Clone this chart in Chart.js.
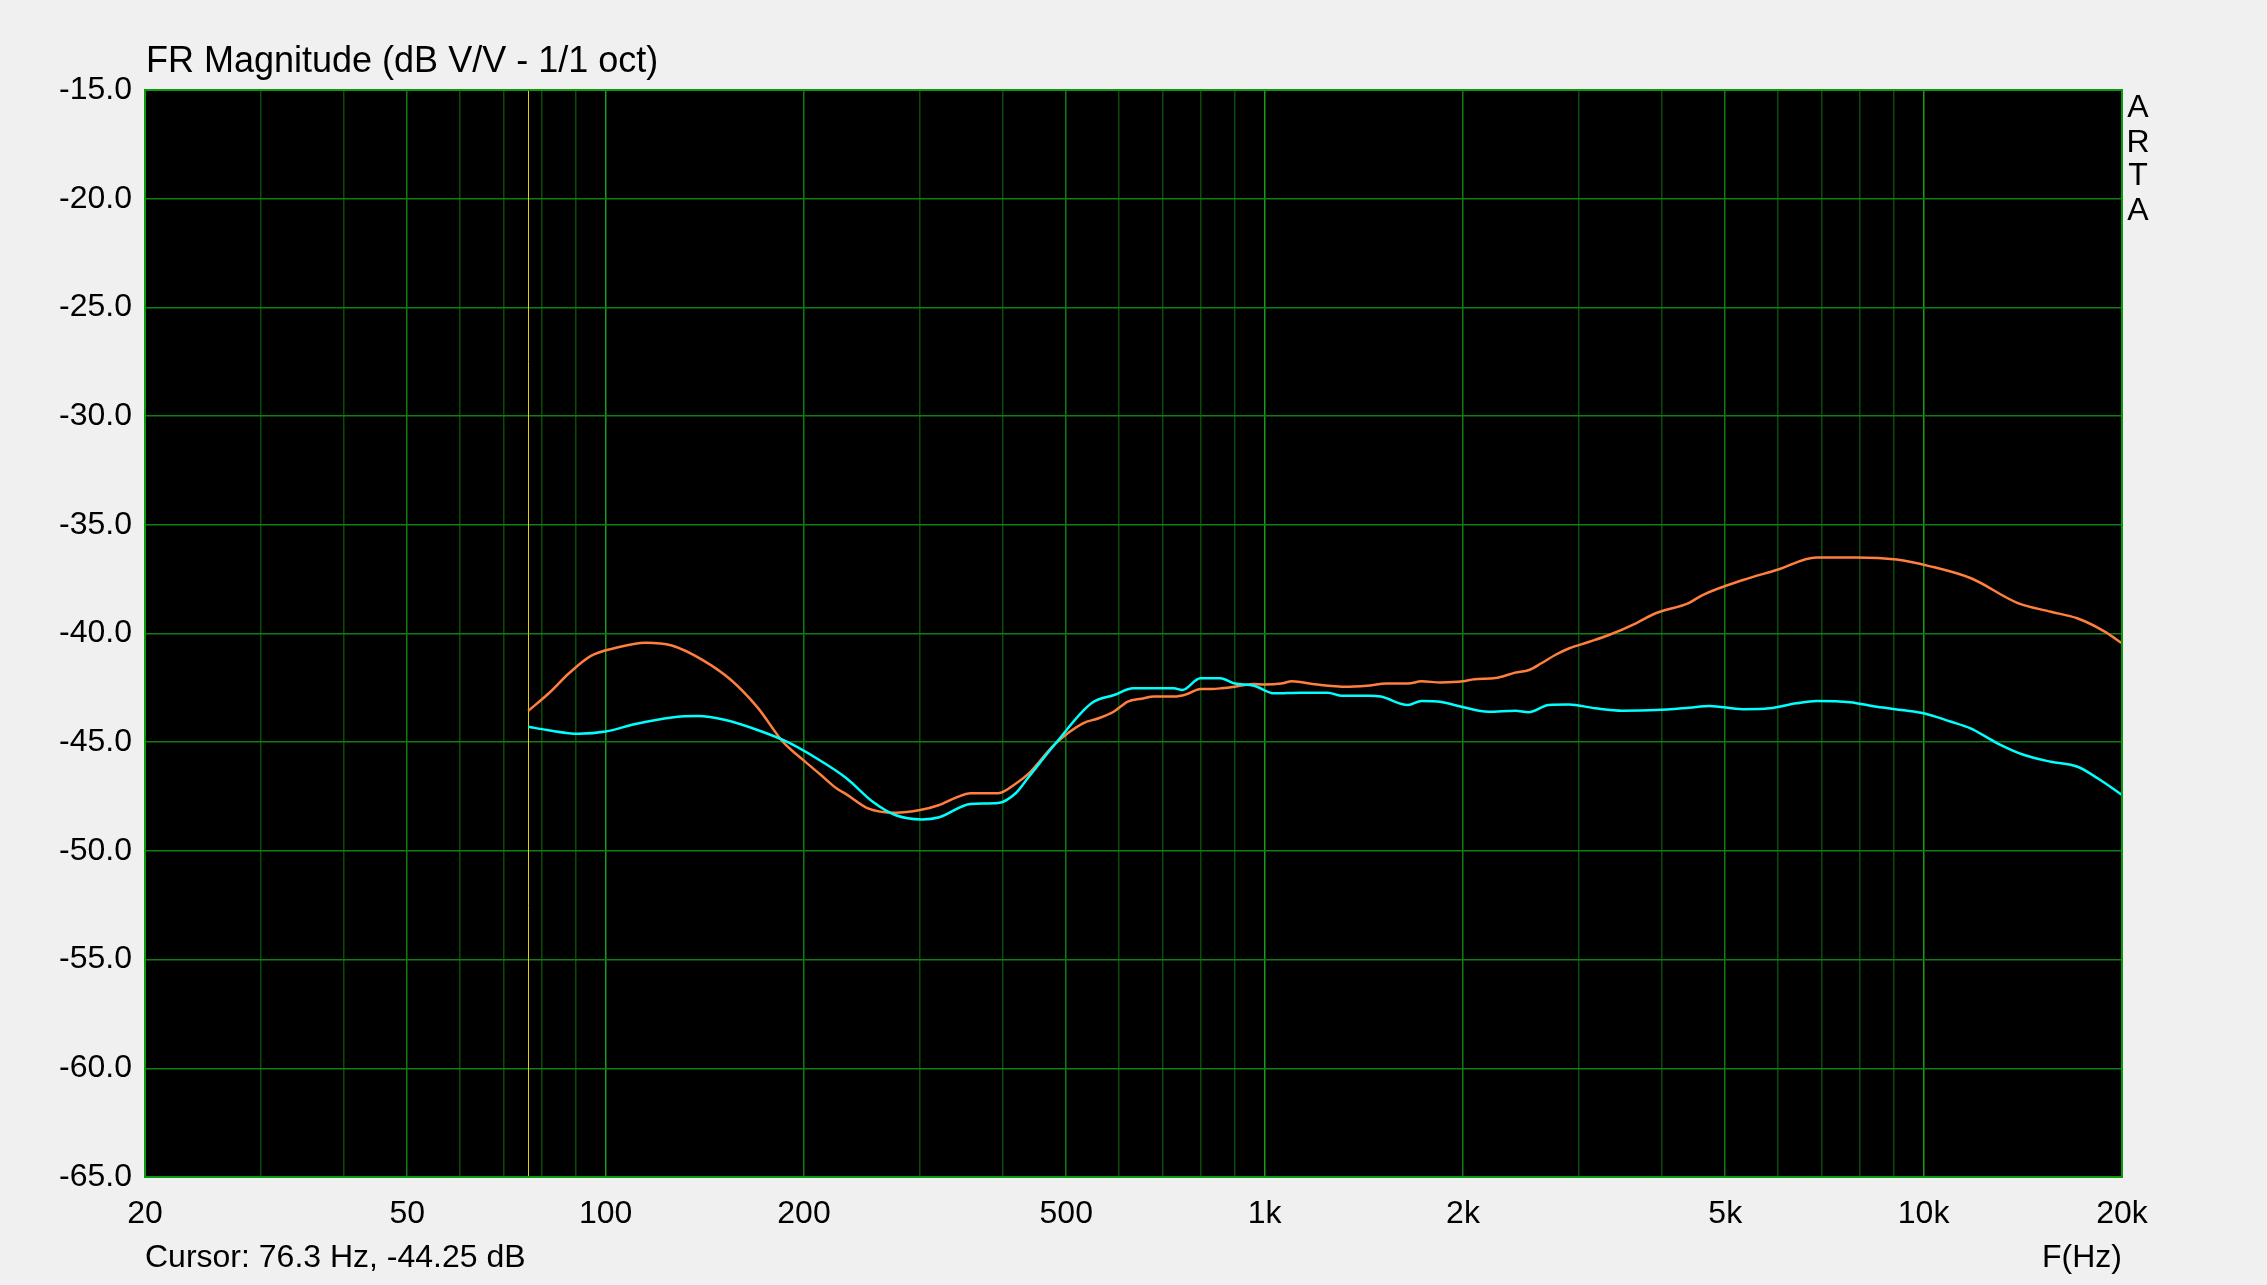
<!DOCTYPE html>
<html>
<head>
<meta charset="utf-8">
<script src="https://cdn.jsdelivr.net/npm/chart.js@4.4.1/dist/chart.umd.min.js"></script>
<style>
  body { margin: 0; background: #f0f0f0; }
  #wrap { width: 2267px; height: 1285px; }
</style>
</head>
<body>
<div id="wrap"><canvas id="frChart"></canvas></div>
<script>
// grid + labelled ticks on the frequency axis
var gridHz = [20, 30, 40, 50, 60, 70, 80, 90,
  100, 200, 300, 400, 500, 600, 700, 800, 900,
  1000, 2000, 3000, 4000, 5000, 6000, 7000, 8000, 9000,
  10000, 20000];
var labelHz = [20, 50, 100, 200, 500, 1000, 2000, 5000, 10000, 20000];
var labelText = ['20', '50', '100', '200', '500', '1k', '2k', '5k', '10k', '20k'];
var dbTicks = [-65, -60, -55, -50, -45, -40, -35, -30, -25, -20, -15];

// cursor readout
var cursorHz = 76.3;
var cursorDb = -44.25;

// orange trace
var orangeHz = [76.3, 82, 88, 95, 103, 115, 126, 140, 155, 170, 186, 200, 212, 224, 232,
  250, 275, 300, 320, 340, 358, 394, 420, 440, 480, 530, 560, 590, 620, 650, 680, 730,
  760, 800, 830, 860, 900, 960, 1000, 1060, 1100, 1190, 1250, 1320, 1430, 1530, 1650,
  1730, 1850, 2000, 2080, 2240, 2400, 2520, 2630, 2760, 2900, 3110, 3330, 3660, 3920,
  4400, 4620, 5320, 5980, 6880, 7900, 9100, 10200, 11800, 13900, 15600, 17100, 18800, 20000];
var orangeDb = [-43.56, -42.75, -41.83, -41.03, -40.68, -40.42, -40.55, -41.2, -42.14, -43.4,
  -45.0, -45.85, -46.5, -47.12, -47.4, -48.04, -48.24, -48.12, -47.9, -47.55, -47.35, -47.35,
  -46.89, -46.4, -45.1, -44.13, -43.9, -43.6, -43.13, -43.0, -42.9, -42.9, -42.8, -42.55,
  -42.55, -42.52, -42.45, -42.32, -42.35, -42.3, -42.2, -42.33, -42.4, -42.45, -42.4, -42.3,
  -42.3, -42.2, -42.25, -42.2, -42.1, -42.05, -41.8, -41.68, -41.37, -40.99, -40.68, -40.38,
  -40.07, -39.53, -39.07, -38.6, -38.23, -37.54, -37.08, -36.5, -36.5, -36.6, -36.9, -37.46,
  -38.6, -39.0, -39.3, -39.9, -40.45];

// cyan trace
var cyanHz = [76.3, 81.5, 91, 100, 111, 126, 138, 152, 170, 189, 211, 232, 254, 275, 302,
  321, 358, 394, 419, 439, 482, 546, 591, 632, 728, 750, 799, 857, 898, 964, 1034, 1135,
  1247, 1306, 1435, 1500, 1650, 1730, 1856, 1990, 2186, 2400, 2516, 2698, 2894, 3177,
  3490, 3924, 4408, 4730, 5318, 5843, 6412, 6878, 7730, 8492, 9326, 10000, 10980, 11780,
  12940, 14210, 15600, 17120, 18370, 20000];
var cyanDb = [-44.29, -44.44, -44.61, -44.51, -44.16, -43.86, -43.8, -43.98, -44.44, -45.0,
  -45.82, -46.66, -47.73, -48.35, -48.55, -48.45, -47.84, -47.8, -47.35, -46.58, -45.05,
  -43.21, -42.83, -42.52, -42.52, -42.6, -42.06, -42.06, -42.29, -42.4, -42.75, -42.72,
  -42.72, -42.86, -42.86, -42.9, -43.29, -43.1, -43.15, -43.37, -43.6, -43.55, -43.62,
  -43.29, -43.27, -43.44, -43.55, -43.52, -43.41, -43.33, -43.48, -43.44, -43.21, -43.1,
  -43.16, -43.37, -43.53, -43.67, -44.05, -44.36, -45.05, -45.59, -45.9, -46.13, -46.66, -47.43];

function pts(xs, ys) {
  return xs.map(function (x, i) { return { x: x, y: ys[i] }; });
}

Chart.defaults.font.family = 'Arial, "Liberation Sans", sans-serif';
Chart.defaults.font.size = 32;
Chart.defaults.color = '#000';

var plotDecor = {
  id: 'plotDecor',
  beforeDraw: function (chart) {
    var c = chart.ctx, a = chart.chartArea;
    c.save();
    c.fillStyle = '#f0f0f0';
    c.fillRect(0, 0, chart.width, chart.height);
    c.fillStyle = '#000';
    c.fillRect(a.left, a.top, a.right - a.left, a.bottom - a.top);
    c.restore();
  },
  beforeDatasetsDraw: function (chart) {
    var c = chart.ctx, a = chart.chartArea;
    var x = Math.round(chart.scales.x.getPixelForValue(cursorHz)) + 0.5;
    c.save();
    c.strokeStyle = '#e6d200';
    c.lineWidth = 1;
    c.beginPath();
    c.moveTo(x, a.top);
    c.lineTo(x, a.bottom);
    c.stroke();
    c.restore();
  },
  afterDraw: function (chart) {
    var c = chart.ctx, a = chart.chartArea;
    c.save();
    c.strokeStyle = '#0a9a0a';
    c.lineWidth = 2;
    c.strokeRect(a.left, a.top, a.right - a.left, a.bottom - a.top);
    c.fillStyle = '#000';
    c.textBaseline = 'middle';
    c.font = '36px Arial, "Liberation Sans", sans-serif';
    c.textAlign = 'left';
    c.fillText('FR Magnitude (dB V/V - 1/1 oct)', a.left + 1, 62);
    c.font = '32px Arial, "Liberation Sans", sans-serif';
    c.fillText('Cursor: ' + cursorHz.toFixed(1) + ' Hz, ' + cursorDb.toFixed(2) + ' dB', a.left, 1258);
    c.textAlign = 'right';
    c.fillText('F(Hz)', a.right, 1258);
    c.textAlign = 'center';
    var letters = ['A', 'R', 'T', 'A'];
    var ly = [108, 143, 176, 211];
    for (var i = 0; i < letters.length; i++) {
      c.fillText(letters[i], a.right + 16, ly[i]);
    }
    c.restore();
  }
};

new Chart(document.getElementById('frChart'), {
  type: 'line',
  data: {
    datasets: [{
      label: 'cyan',
      data: pts(cyanHz, cyanDb),
      borderColor: '#00ffff',
      borderWidth: 2.5,
      pointRadius: 0,
      cubicInterpolationMode: 'monotone'
    }, {
      label: 'orange',
      data: pts(orangeHz, orangeDb),
      borderColor: '#ff7f3f',
      borderWidth: 2.5,
      pointRadius: 0,
      cubicInterpolationMode: 'monotone'
    }]
  },
  options: {
    responsive: true,
    maintainAspectRatio: false,
    animation: false,
    layout: { padding: { top: 90, right: 145, left: 0, bottom: 0 } },
    plugins: {
      legend: { display: false },
      tooltip: { enabled: false }
    },
    scales: {
      x: {
        type: 'logarithmic',
        min: 20,
        max: 20000,
        afterFit: function (s) { s.height = 108; },
        afterBuildTicks: function (s) {
          s.ticks = gridHz.map(function (v) { return { value: v }; });
        },
        ticks: {
          autoSkip: false,
          maxRotation: 0,
          padding: 18,
          callback: function (v) {
            var i = labelHz.indexOf(v);
            return i >= 0 ? labelText[i] : '';
          }
        },
        grid: {
          drawTicks: false,
          lineWidth: 1.5,
          color: function (ctx) {
            var v = ctx.tick ? ctx.tick.value : 0;
            if (v === 100 || v === 1000 || v === 10000) return '#1c9a1c';
            if (labelHz.indexOf(v) >= 0) return '#127a12';
            return '#0a4c0a';
          }
        },
        border: { display: false }
      },
      y: {
        type: 'linear',
        min: -65,
        max: -15,
        afterFit: function (s) { s.width = 145; },
        afterBuildTicks: function (s) {
          s.ticks = dbTicks.map(function (v) { return { value: v }; });
        },
        ticks: {
          padding: 13,
          callback: function (v) { return v.toFixed(1); }
        },
        grid: {
          drawTicks: false,
          lineWidth: 1.5,
          color: '#107e10'
        },
        border: { display: false }
      }
    }
  },
  plugins: [plotDecor]
});
</script>
</body>
</html>
